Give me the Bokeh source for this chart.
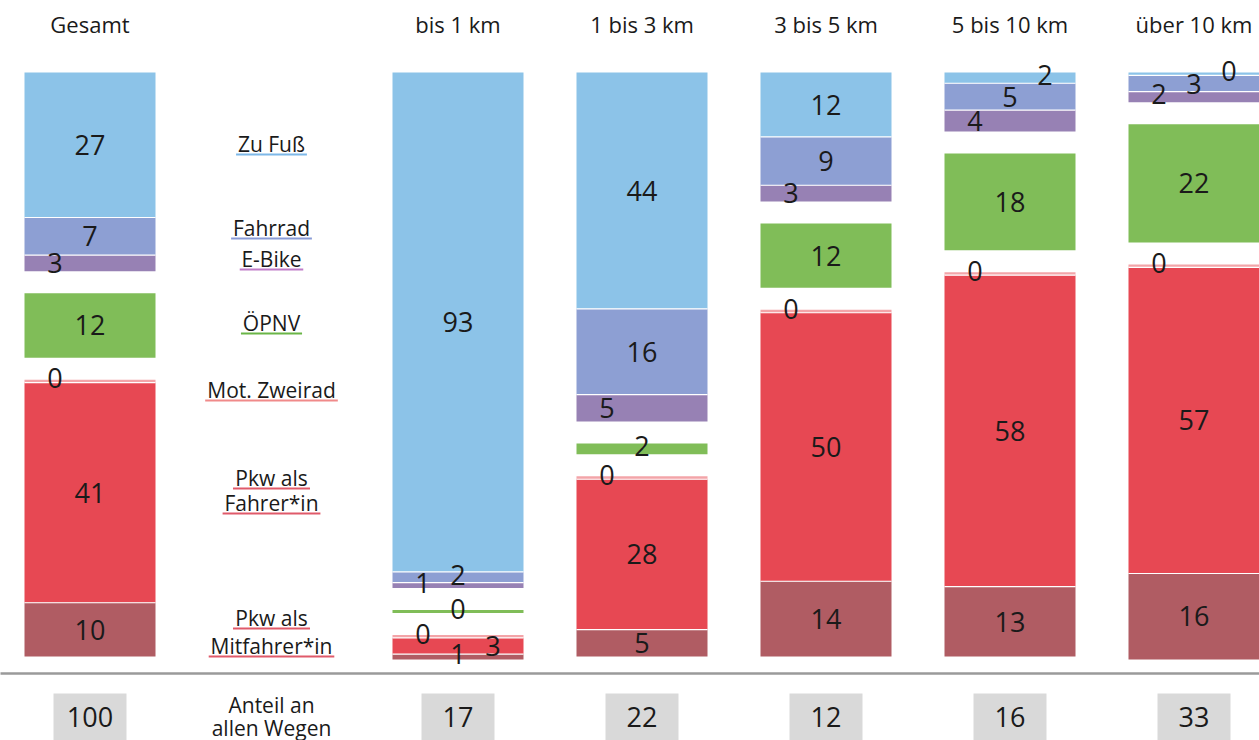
from bokeh.plotting import figure
from bokeh.models import Range1d
from bokeh.core.properties import value
from bokeh.embed import file_html
from bokeh.resources import INLINE

# ---------------- data ----------------
columns = ["Gesamt", "bis 1 km", "1 bis 3 km", "3 bis 5 km", "5 bis 10 km", "über 10 km"]
zu_fuss = [27, 93, 44, 12, 2, 0]
fahrrad = [7, 2, 16, 9, 5, 3]
e_bike = [3, 1, 5, 3, 4, 2]
oepnv = [12, 0, 2, 12, 18, 22]
mot_zweirad = [0, 0, 0, 0, 0, 0]
pkw_fahrer = [41, 3, 28, 50, 58, 57]
pkw_mitfahrer = [10, 1, 5, 14, 13, 16]
anteil = [100, 17, 22, 12, 16, 33]
legend_lines = [["Zu Fuß"], ["Fahrrad"], ["E-Bike"], ["ÖPNV"], ["Mot. Zweirad"],
                ["Pkw als", "Fahrer*in"], ["Pkw als", "Mitfahrer*in"]]
anteil_label = ["Anteil an", "allen Wegen"]

# ---------------- styles / layout ----------------
FONT = value("Open Sans")
TXT = "#1a1a1a"
COLORS = {"fuss": "#8cc3e8", "rad": "#8d9fd3", "ebike": "#9781b4", "oepnv": "#80bd58",
          "mot": "#f3a4a8", "pkw": "#e74853", "mit": "#b05c63"}
UL = {"fuss": "#7db8e8", "rad": "#8a9bd6", "ebike": "#c07cc8", "oepnv": "#6ab547",
      "mot": "#f08a8a", "pkw": "#e05a6a"}

W, H = 1259, 740
PX = 5.37          # pixels per percent point
TOP_PX = 72        # pixel row where the bars start
SLOT_PX = 184      # horizontal spacing of columns
X0_PX = 89.5       # centre of first column in pixels
GAP = 22 / PX
MIN_H = 0.55
BAR_HALF = 65.5 / SLOT_PX
SIDE = 35 / SLOT_PX

slots = [0, 2, 3, 4, 5, 6]
LEG_X = (271 - X0_PX) / SLOT_PX


def py(page_y):
    return (page_y - TOP_PX) / PX


def pxu(px):
    return px / SLOT_PX


CW = {'a': 1139, 'b': 1255, 'c': 975, 'd': 1255, 'e': 1149, 'f': 694, 'g': 1122, 'h': 1257,
      'i': 518, 'k': 1075, 'l': 518, 'm': 1905, 'n': 1257, 'o': 1237, 'r': 836, 's': 977,
      't': 723, 'u': 1257, 'w': 1665, 'A': 1296, 'B': 1300, 'E': 1104, 'F': 1028, 'M': 1802,
      'N': 1546, 'P': 1212, 'V': 1212, 'Z': 1145, 'Ö': 1599, 'ß': 1300, ' ': 532, '.': 545,
      '-': 659, '*': 1130}


def text_w(s, size):
    return sum(CW.get(ch, 1150) for ch in s) / 2048 * size


p = figure(width=W, height=H,
           x_range=Range1d(-X0_PX / SLOT_PX, (W - X0_PX) / SLOT_PX),
           y_range=Range1d((H - TOP_PX) / PX, -TOP_PX / PX),
           x_axis_type=None, y_axis_type=None, toolbar_location=None,
           output_backend="svg", min_border=0, outline_line_color=None)
p.background_fill_color = "white"

groups = [
    [("fuss", zu_fuss), ("rad", fahrrad), ("ebike", e_bike)],
    [("oepnv", oepnv)],
    [("mot", mot_zweirad), ("pkw", pkw_fahrer), ("mit", pkw_mitfahrer)],
]

# label side: -1 left, +1 right, 0 centre
side = {(0, "ebike"): -1, (0, "mot"): -1,
        (1, "ebike"): -1, (1, "mot"): -1, (1, "pkw"): 1,
        (2, "ebike"): -1, (2, "mot"): -1,
        (3, "ebike"): -1, (3, "mot"): -1,
        (4, "fuss"): 1, (4, "ebike"): -1, (4, "mot"): -1,
        (5, "fuss"): 1, (5, "ebike"): -1, (5, "mot"): -1}

ql, qr, qt, qb, qc = [], [], [], [], []
sx0, sx1, sy = [], [], []
lx, ly, lt = [], [], []
for ci, slot in enumerate(slots):
    y = 0.0
    for g in groups:
        for k, (key, series) in enumerate(g):
            v = series[ci]
            h = max(v, MIN_H)
            ql.append(slot - BAR_HALF)
            qr.append(slot + BAR_HALF)
            qt.append(y)
            qb.append(y + h)
            qc.append(COLORS[key])
            if k > 0:
                sx0.append(slot - BAR_HALF)
                sx1.append(slot + BAR_HALF)
                sy.append(y)
            shift = -0.5 if v <= 2 else 0.0
            lx.append(slot + side.get((ci, key), 0) * SIDE)
            ly.append(y + h / 2 + shift)
            lt.append(str(v))
            y += h
        y += GAP

p.quad(left=ql, right=qr, top=qt, bottom=qb, fill_color=qc, line_color=None)
p.segment(x0=sx0, y0=sy, x1=sx1, y1=sy, line_color="white", line_width=1.2)
p.text(x=lx, y=ly, text=lt, text_font=FONT, text_font_size="27px", text_color=TXT,
       text_align="center", text_baseline="middle")

# column titles
p.text(x=slots, y=[py(23)] * len(slots), text=columns, text_font=FONT,
       text_font_size="22px", text_color=TXT, text_align="center", text_baseline="middle")

# legend labels in the second column
leg_y = [[143], [227], [258], [322], [389], [477, 502], [617, 645]]
leg_c = ["fuss", "rad", "ebike", "oepnv", "mot", "pkw", "pkw"]
tx, ty, tt = [], [], []
ux0, ux1, uy, uc = [], [], [], []
for lines, ys, key in zip(legend_lines, leg_y, leg_c):
    for s, yy in zip(lines, ys):
        tx.append(LEG_X)
        ty.append(py(yy))
        tt.append(s)
        half = pxu(text_w(s, 21) / 2 + 2)
        ux0.append(LEG_X - half)
        ux1.append(LEG_X + half)
        uy.append(py(yy + 11))
        uc.append(UL[key])
p.segment(x0=ux0, y0=uy, x1=ux1, y1=uy, line_color=uc, line_width=2)
p.text(x=tx, y=ty, text=tt, text_font=FONT, text_font_size="21px", text_color=TXT,
       text_align="center", text_baseline="middle")

# separator line
p.segment(x0=[-1], y0=[py(673)], x1=[8], y1=[py(673)], line_color="#9a9a9a", line_width=2.5)

# share boxes
BOX_HALF = pxu(36.5)
p.quad(left=[s - BOX_HALF for s in slots], right=[s + BOX_HALF for s in slots],
       top=[py(693)] * len(slots), bottom=[py(760)] * len(slots),
       fill_color="#d9d9d9", line_color=None)
p.text(x=slots, y=[py(716)] * len(slots), text=[str(a) for a in anteil], text_font=FONT,
       text_font_size="27px", text_color=TXT, text_align="center", text_baseline="middle")
p.text(x=[LEG_X, LEG_X], y=[py(704), py(727)], text=anteil_label, text_font=FONT,
       text_font_size="21px", text_color=TXT, text_align="center", text_baseline="middle")

open("out.html", "w").write(file_html(p, INLINE))
